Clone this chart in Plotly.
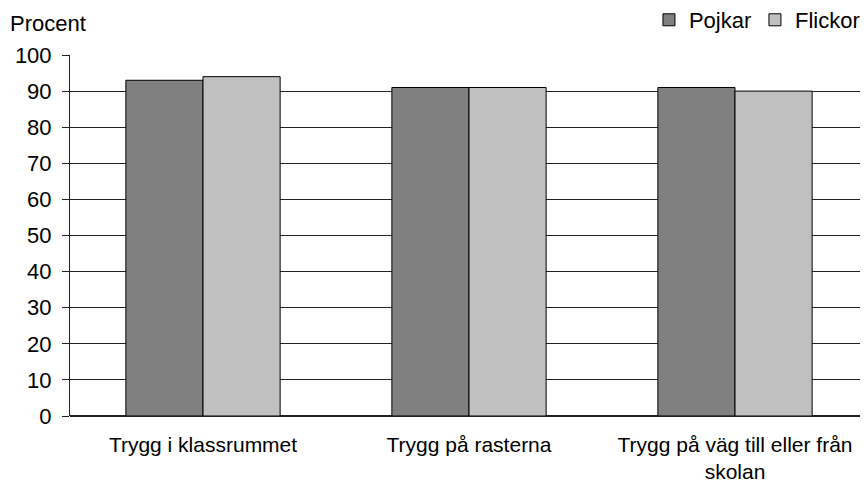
import plotly.graph_objects as go

categories = ["Trygg i klassrummet", "Trygg på rasterna", "Trygg på väg till eller från<br>skolan"]
pojkar = [93, 91, 91]
flickor = [94, 91, 90]
y_ticks = list(range(0, 101, 10))

FONT = "Liberation Sans, Arial, sans-serif"
FS = 22

fig = go.Figure()
fig.add_trace(go.Bar(name="Pojkar", x=categories, y=pojkar,
                     marker=dict(color="#808080", line=dict(color="black", width=1))))
fig.add_trace(go.Bar(name="Flickor", x=categories, y=flickor,
                     marker=dict(color="#C0C0C0", line=dict(color="black", width=1))))

fig.update_layout(
    width=860, height=477,
    margin=dict(l=62, r=0, t=47, b=69, autoexpand=False),
    paper_bgcolor="white", plot_bgcolor="white",
    barmode="group", bargap=0.42, bargroupgap=0,
    font=dict(family=FONT, size=FS, color="black"),
    legend=dict(orientation="h", x=0.7255, xanchor="left", y=1.097, yanchor="middle",
                font=dict(size=FS), itemwidth=30, entrywidth=61, traceorder="normal",
                borderwidth=0, bgcolor="rgba(0,0,0,0)"),
    annotations=[dict(text="Procent", xref="paper", yref="paper", x=-0.0775, y=1.086,
                      xanchor="left", yanchor="middle", showarrow=False,
                      font=dict(size=FS))],
)
fig.update_xaxes(showline=False, showgrid=False, ticks="", ticklen=0,
                 tickfont=dict(size=21), ticklabelstandoff=14, automargin=False)
fig.update_yaxes(range=[0, 100], tickvals=y_ticks, showgrid=True, gridcolor="#222222",
                 gridwidth=1, showline=True, linecolor="#222222", linewidth=1,
                 ticks="outside", ticklen=7, tickcolor="#222222", tickfont=dict(size=FS),
                 ticklabelstandoff=6,
                 zeroline=True, zerolinecolor="#222222", zerolinewidth=2,
                 automargin=False)

fig.write_html("out.html")
